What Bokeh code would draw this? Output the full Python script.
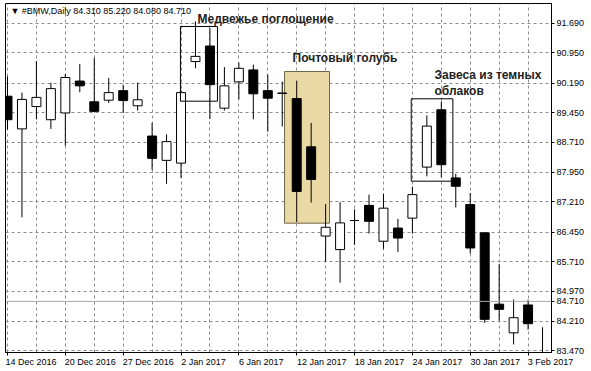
from bokeh.plotting import figure
from bokeh.models import (ColumnDataSource, Range1d, FixedTicker, PrintfTickFormatter,
                          BoxAnnotation, Label, Span)
from bokeh.embed import file_html
from bokeh.resources import INLINE

# ---------------- data ----------------
dates = ["14 Dec", "15 Dec", "16 Dec", "19 Dec", "20 Dec", "21 Dec", "22 Dec", "23 Dec",
         "27 Dec", "28 Dec", "29 Dec", "30 Dec",
         "2 Jan", "3 Jan", "4 Jan", "5 Jan", "6 Jan", "9 Jan", "10 Jan", "11 Jan", "12 Jan",
         "13 Jan", "16 Jan", "17 Jan", "18 Jan", "19 Jan", "20 Jan", "23 Jan", "24 Jan",
         "25 Jan", "26 Jan", "27 Jan", "30 Jan", "31 Jan",
         "1 Feb", "2 Feb", "3 Feb", "6 Feb"]

opens  = [89.86, 89.04, 89.60, 89.27, 89.44, 90.24, 89.72, 89.76, 90.00, 89.62, 88.86, 88.25,
          88.18, 90.73, 91.12, 89.56, 90.22, 90.52, 90.00, 89.94, 89.80, 88.59, 86.35, 86.01,
          86.74, 87.12, 86.22, 86.55, 86.80, 88.08, 89.52, 87.81, 87.14, 86.43, 84.64, 83.92,
          84.62, 83.35]
highs  = [90.36, 89.95, 90.74, 90.20, 90.42, 90.67, 90.82, 90.32, 90.15, 90.20, 89.19, 88.90,
          90.01, 91.74, 91.57, 90.59, 90.70, 90.65, 90.40, 90.23, 90.25, 89.19, 87.15, 87.20,
          87.02, 87.39, 87.41, 86.78, 87.59, 89.38, 89.73, 87.91, 87.43, 86.45, 85.65, 84.76,
          84.75, 84.06]
lows   = [89.02, 86.82, 89.28, 89.04, 88.62, 89.96, 89.46, 89.69, 89.44, 89.50, 88.01, 87.66,
          87.81, 90.56, 89.29, 89.50, 89.78, 89.28, 88.97, 89.10, 86.70, 87.19, 85.71, 85.18,
          86.13, 86.41, 86.03, 85.95, 86.41, 87.85, 87.83, 87.07, 85.91, 84.17, 84.23, 83.63,
          84.00, 83.30]
closes = [89.27, 89.78, 89.83, 90.05, 90.33, 90.12, 89.48, 89.95, 89.75, 89.77, 88.30, 88.72,
          89.95, 90.86, 90.15, 90.12, 90.56, 89.92, 89.81, 89.93, 87.47, 87.77, 86.57, 86.68,
          86.74, 86.72, 87.05, 86.30, 87.39, 89.11, 88.14, 87.60, 86.05, 84.26, 84.51, 84.30,
          84.15, 83.35]

price_ticks = [91.690, 90.950, 90.190, 89.450, 88.710, 87.950, 87.210, 86.450, 85.710,
               84.970, 84.210, 83.470]
date_tick_idx = [0, 4, 8, 12, 16, 20, 24, 28, 32, 36]
date_tick_labels = ["14 Dec 2016", "20 Dec 2016", "27 Dec 2016", "2 Jan 2017", "6 Jan 2017",
                    "12 Jan 2017", "18 Jan 2017", "24 Jan 2017", "30 Jan 2017", "3 Feb 2017"]
header = "\u25BC #BMW,Daily  84.310 85.220 84.080 84.710"
last_price = 84.710

# ---------------- build sources ----------------
idx = list(range(len(dates)))
up = [i for i in idx if closes[i] >= opens[i]]
dn = [i for i in idx if closes[i] < opens[i]]

wicks = ColumnDataSource(dict(x=idx, hi=highs, lo=lows))
up_src = ColumnDataSource(dict(x=up, top=[closes[i] for i in up], bottom=[opens[i] for i in up]))
dn_src = ColumnDataSource(dict(x=dn, top=[opens[i] for i in dn], bottom=[closes[i] for i in dn]))

FONT = "Liberation Sans"

p = figure(width=591, height=371, output_backend="svg", toolbar_location=None,
           x_range=Range1d(-0.138, 37.62), y_range=Range1d(83.427, 92.187),
           y_axis_location="right", min_border_left=5, min_border_right=40,
           min_border_top=3, min_border_bottom=19)
p.background_fill_color = "white"
p.border_fill_color = "white"
p.outline_line_color = "black"
p.outline_line_width = 1

# grids
p.xgrid.ticker = FixedTicker(ticks=list(range(0, len(dates), 2)))
p.ygrid.ticker = FixedTicker(ticks=price_ticks)
for g in (p.xgrid, p.ygrid):
    g.grid_line_color = "#8c8c8c"
    g.grid_line_dash = "3 3"
    g.grid_line_width = 1

# axes (price scale also shows the current price)
ya = p.yaxis[0]
ya.ticker = FixedTicker(ticks=price_ticks + [last_price])
ya.formatter = PrintfTickFormatter(format="%.3f")
ya.major_tick_out = 3
ya.major_tick_in = 0
ya.minor_tick_out = 0
ya.minor_tick_in = 0
ya.major_label_standoff = 2
ya.major_label_text_font = FONT
ya.major_label_text_font_size = "9px"
ya.major_label_text_color = "black"
ya.axis_line_color = "black"


def left_aligned(lab, first=False):
    # pad on the left with no-break spaces so the centred label starts at its tick
    if first:
        return "\u00a0\u00a0" + lab
    w = 0.0
    for ch in lab:
        if ch.isdigit():
            w += 2.0
        elif ch == " ":
            w += 1.0
        elif ch in "DF":
            w += 2.4
        elif ch in "ecJ":
            w += 1.9
        else:
            w += 2.0
    return "\u00a0" * int(round(w)) + lab


xa = p.xaxis[0]
xa.ticker = FixedTicker(ticks=date_tick_idx)
xa.major_label_overrides = {i: left_aligned(lab, k == 0)
                            for k, (i, lab) in enumerate(zip(date_tick_idx, date_tick_labels))}
xa.major_tick_out = 3
xa.major_tick_in = 0
xa.minor_tick_out = 0
xa.minor_tick_in = 0
xa.major_label_standoff = 1
xa.major_label_text_font = FONT
xa.major_label_text_font_size = "9px"
xa.major_label_text_color = "black"
xa.axis_line_color = "black"

# pattern boxes
p.add_layout(BoxAnnotation(left=19.16, right=22.27, bottom=86.673, top=90.480,
                           fill_color="#ead9a4", fill_alpha=1.0,
                           line_color="#6f6646", line_alpha=1.0, line_width=1, level="underlay"))
p.add_layout(BoxAnnotation(left=11.96, right=14.52, bottom=89.735, top=91.61,
                           fill_alpha=0, line_color="black", line_alpha=1.0, line_width=1))
p.add_layout(BoxAnnotation(left=27.92, right=30.80, bottom=87.727, top=89.795,
                           fill_alpha=0, line_color="black", line_alpha=1.0, line_width=1))

# last price line
p.add_layout(Span(location=last_price, dimension="width", line_color="#a8a8a8", line_width=1))

# candles
p.segment(x0="x", y0="lo", x1="x", y1="hi", source=wicks, line_color="black", line_width=1)
p.vbar(x="x", top="top", bottom="bottom", width=0.62, source=up_src,
       fill_color="white", line_color="black", line_width=1)
p.vbar(x="x", top="top", bottom="bottom", width=0.62, source=dn_src,
       fill_color="black", line_color="black", line_width=1)

# texts
p.add_layout(Label(x=0.2, y=92.01, text=header, text_font=FONT, text_font_size="9px",
                   text_color="black", text_baseline="middle"))
for tx, ty, t in [(13.14, 91.81, "Медвежье поглощение"),
                  (19.71, 90.81, "Почтовый голубь"),
                  (29.53, 90.38, "Завеса из темных"),
                  (29.53, 90.00, "облаков")]:
    p.add_layout(Label(x=tx, y=ty, text=t, text_font=FONT, text_font_size="12px",
                       text_font_style="bold", text_color="#222222", text_baseline="middle"))

open("out.html", "w").write(file_html(p, INLINE))
